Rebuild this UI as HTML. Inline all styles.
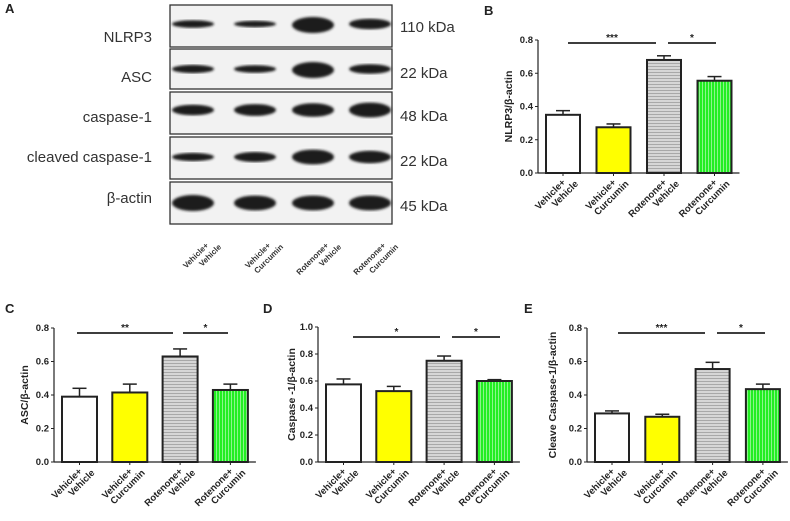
<!DOCTYPE html>
<html><head><meta charset="utf-8"><style>
body{margin:0;background:#fff;}
svg{display:block;font-family:"Liberation Sans",Arial,sans-serif;}
.lab{font-weight:bold;font-size:9.5px;fill:#222}
</style></head><body>
<svg id="fig" width="790" height="521" viewBox="0 0 790 521">
<defs>
<pattern id="hstripe" width="4" height="3" patternUnits="userSpaceOnUse"><rect width="4" height="3" fill="#d6d6d6"/><rect width="4" height="1" fill="#a8a8a8"/></pattern>
<pattern id="vstripe" width="3" height="4" patternUnits="userSpaceOnUse"><rect width="3" height="4" fill="#22ee22"/><rect width="1" height="4" fill="#8cf58c"/></pattern>
<filter id="blur"><feGaussianBlur stdDeviation="1.3"/></filter>
</defs>
<g id="blot"></g>
<g id="charts"></g>
</svg>
<script>
const NS='http://www.w3.org/2000/svg';
function mk(tag,attrs,parent,txt){const e=document.createElementNS(NS,tag);for(const k in attrs)e.setAttribute(k,attrs[k]);if(txt!==undefined)e.textContent=txt;parent.appendChild(e);return e;}
const svg=document.getElementById('fig');
const blot=document.getElementById('blot');
const charts=document.getElementById('charts');

// ----- Panel A (blot) -----
const blotRows=['NLRP3','ASC','caspase-1','cleaved caspase-1','β-actin'];
const blotKda=['110 kDa','22 kDa','48 kDa','22 kDa','45 kDa'];
const bandNLRP3=[0.3,0.2,1.0,0.55];
const bandASC=[0.35,0.3,1.0,0.45];
const bandCasp=[0.55,0.65,0.8,0.9];
const bandCleaved=[0.35,0.5,0.9,0.7];
const bandActin=[1.0,0.9,0.9,0.9];
const bandSets=[bandNLRP3,bandASC,bandCasp,bandCleaved,bandActin];
const rowTop=[5,49,92,137,182],rowBot=[47,89,134,179,224];
const labY=[42,82,122,162,203],kdaY=[32,78,121,166,211],bandY=[24,69,110,157,203];
const laneX=[193,255,313,370];
const laneNames=[['Vehicle+','Vehicle'],['Vehicle+','Curcumin'],['Rotenone+','Vehicle'],['Rotenone+','Curcumin']];
let t=mk('text',{x:5,y:13,'font-weight':'bold','font-size':'13',fill:'#222'},blot,'A');

for(let r=0;r<5;r++){
  let rect=mk('rect',{x:170,y:rowTop[r],width:222,height:rowBot[r]-rowTop[r],fill:'#f2f2f2',stroke:'#333','stroke-width':1.3},blot);
  
  let l=mk('text',{x:152,y:labY[r],'text-anchor':'end','font-size':'15',fill:'#333'},blot,blotRows[r]);
  
  let k=mk('text',{x:400,y:kdaY[r],'font-size':'15',fill:'#333'},blot,blotKda[r]);
  
  for(let j=0;j<4;j++){
    const v=bandSets[r][j];
    let b=mk('ellipse',{cx:laneX[j],cy:bandY[r]+(j==2&&r<2?1:0),rx:21,ry:2+v*6,fill:'#1a1a1a',filter:'url(#blur)'},blot);
    
  }
}
for(let j=0;j<4;j++){
  let g=mk('text',{transform:`translate(${laneX[j]+16},246) rotate(-45)`,'font-size':'8','font-weight':'bold',fill:'#333','text-anchor':'end'},blot);
  
  mk('tspan',{x:0,dy:0},g,laneNames[j][0]);mk('tspan',{x:8,dy:10},g,laneNames[j][1]);
}

// ----- Bar chart data -----
const categories=['Vehicle+ Vehicle','Vehicle+ Curcumin','Rotenone+ Vehicle','Rotenone+ Curcumin'];
const nlrp3Means=[0.35,0.275,0.68,0.555];
const nlrp3Err=[0.025,0.02,0.025,0.025];
const ascMeans=[0.39,0.415,0.63,0.43];
const ascErr=[0.05,0.05,0.045,0.035];
const caspMeans=[0.575,0.525,0.75,0.6];
const caspErr=[0.04,0.035,0.035,0.01];
const cleavedMeans=[0.29,0.27,0.555,0.435];
const cleavedErr=[0.015,0.015,0.04,0.03];
const ticks08=[0,0.2,0.4,0.6,0.8];
const ticks10=[0,0.2,0.4,0.6,0.8,1.0];
const sigLabels1=['***','*'];
const sigLabels2=['**','*'];
const sigLabels3=['*','*'];

const fills=['#ffffff','#ffff00','url(#hstripe)','url(#vstripe)'];

function panel(o){
  const g=mk('g',{},charts);
  
  const y=v=>o.y0-(v/o.ymax)*(o.y0-o.ytop);
  const bx=i=>o.x0+8+i*o.step;
  let L=mk('text',{x:o.lx,y:o.ly,'font-weight':'bold','font-size':'13',fill:'#222'},g,o.letter);
  
  let ya=mk('line',{x1:o.x0,y1:y(0),x2:o.x0,y2:o.ytop,stroke:'#222','stroke-width':1.2},g);
  
  let xa=mk('line',{x1:o.x0,y1:o.y0,x2:o.x0+8+3*o.step+o.bw+8,y2:o.y0,stroke:'#222','stroke-width':1.2},g);
  
  o.ticks.forEach(tv=>{
    mk('line',{x1:o.x0-3,y1:y(tv),x2:o.x0,y2:y(tv),stroke:'#222'},g);
    let tl=mk('text',{x:o.x0-5,y:y(tv)+3,'text-anchor':'end',class:'lab'},g,tv.toFixed(1));
    
  });
  let yt=mk('text',{transform:`translate(${o.ytx},${(o.y0+o.ytop)/2}) rotate(-90)`,'text-anchor':'middle','font-weight':'bold','font-size':'10.5',fill:'#222'},g,o.ylabel);
  
  o.means.forEach((m,i)=>{
    const x=bx(i),cx=x+o.bw/2;
    const e=y(m+o.err[i]);
    let el=mk('line',{x1:cx,y1:y(m),x2:cx,y2:e,stroke:'#222','stroke-width':1.5},g);
    
    mk('line',{x1:cx-7,y1:e,x2:cx+7,y2:e,stroke:'#222','stroke-width':1.5},g);
    let r=mk('rect',{x:x,y:y(m),width:o.bw,height:y(0)-y(m),fill:fills[i],stroke:'#222','stroke-width':2},g);
    
    mk('line',{x1:cx,y1:o.y0,x2:cx,y2:o.y0+3,stroke:'#222'},g);
    const parts=categories[i].split(' ');
    let xl=mk('text',{transform:`translate(${cx+3},${o.y0+10}) rotate(-45)`,'text-anchor':'end',class:'lab'},g);
    
    mk('tspan',{x:0,dy:0},xl,parts[0]);mk('tspan',{x:8,dy:10},xl,parts[1]);
  });
  o.sig.forEach((s,k)=>{
    let sl=mk('line',{x1:s[0],y1:o.sy,x2:s[1],y2:o.sy,stroke:'#222','stroke-width':1.8},g);
    
    let st=mk('text',{x:(s[0]+s[1])/2,y:o.sy-2,'text-anchor':'middle','font-size':'10','font-weight':'bold',fill:'#222'},g,o.sigLabels[k]);
    
  });
}
panel({name:'chart-b-nlrp3',letter:'B',lx:484,ly:15,x0:538,y0:173,ytop:40,ymax:0.8,step:50.5,bw:34,ticks:ticks08,means:nlrp3Means,err:nlrp3Err,ylabel:'NLRP3/β-actin',ytx:512,sy:43,sig:[[568,656],[668,716]],sigLabels:sigLabels1});
panel({name:'chart-c-asc',letter:'C',lx:5,ly:313,x0:54,y0:462,ytop:328,ymax:0.8,step:50.3,bw:35,ticks:ticks08,means:ascMeans,err:ascErr,ylabel:'ASC/β-actin',ytx:28,sy:333,sig:[[77,173],[183,228]],sigLabels:sigLabels2});
panel({name:'chart-d-caspase1',letter:'D',lx:263,ly:313,x0:318,y0:462,ytop:327,ymax:1.0,step:50.3,bw:35,ticks:ticks10,means:caspMeans,err:caspErr,ylabel:'Caspase -1/β-actin',ytx:295,sy:337,sig:[[353,440],[452,500]],sigLabels:sigLabels3});
panel({name:'chart-e-cleaved-caspase1',letter:'E',lx:524,ly:313,x0:587,y0:462,ytop:328,ymax:0.8,step:50.3,bw:34,ticks:ticks08,means:cleavedMeans,err:cleavedErr,ylabel:'Cleave Caspase-1/β-actin',ytx:556,sy:333,sig:[[618,705],[717,765]],sigLabels:sigLabels1});
</script>
</body></html>
